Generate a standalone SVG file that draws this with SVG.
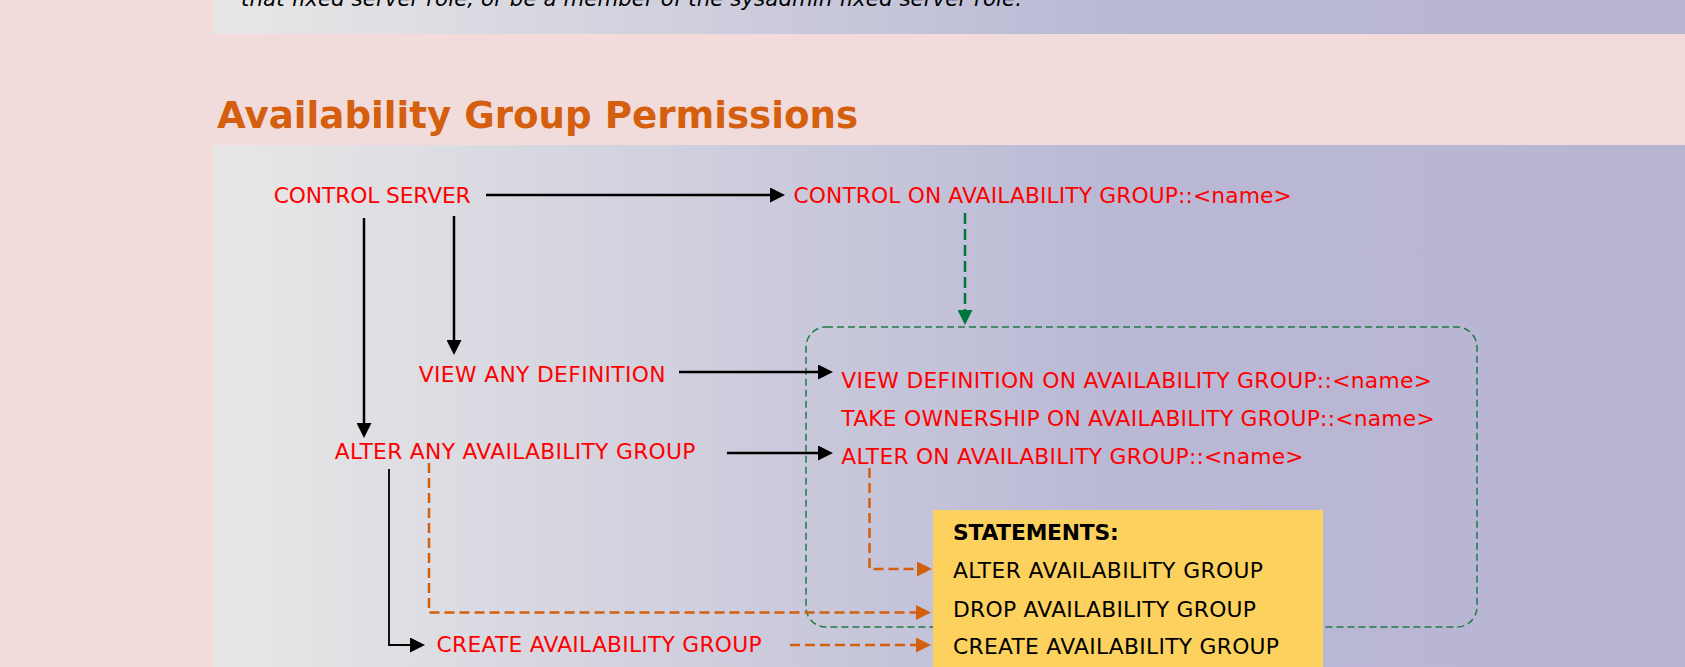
<svg xmlns="http://www.w3.org/2000/svg" width="1685" height="667" viewBox="0 0 1685 667">
<defs>
<linearGradient id="pg" gradientUnits="userSpaceOnUse" x1="213" y1="0" x2="1685" y2="0">
<stop offset="0" stop-color="#E6E6E6"/>
<stop offset="0.04" stop-color="#E5E5E6"/>
<stop offset="0.62" stop-color="#B9B8D5"/>
<stop offset="1" stop-color="#B8B5D3"/>
</linearGradient>
<marker id="ab" markerUnits="userSpaceOnUse" viewBox="0 0 15 15" refX="1" refY="7.5" markerWidth="15" markerHeight="15" orient="auto">
<path d="M0,0 L15,7.5 L0,15 z" fill="#000"/>
</marker>
<marker id="ao" markerUnits="userSpaceOnUse" viewBox="0 0 15 15" refX="1" refY="7.5" markerWidth="15" markerHeight="15" orient="auto">
<path d="M0,0 L15,7.5 L0,15 z" fill="#D2600F"/>
</marker>
<marker id="ag" markerUnits="userSpaceOnUse" viewBox="0 0 15 15" refX="1" refY="7.5" markerWidth="15" markerHeight="15" orient="auto">
<path d="M0,0 L15,7.5 L0,15 z" fill="#00773A"/>
</marker>
</defs>
<style>
.lbl{font-family:"DejaVu Sans",Verdana,sans-serif;font-size:21.8px;fill:#FF0000}
.st{font-family:"DejaVu Sans",Verdana,sans-serif;font-size:21.8px;fill:#000}
.bl{fill:none;stroke:#000;stroke-width:2.5}
.or{fill:none;stroke:#D2600F;stroke-width:2.5;stroke-dasharray:10 5}
.gr{fill:none;stroke:#00773A;stroke-width:2.5;stroke-dasharray:11 5}
</style>
<rect x="0" y="0" width="1685" height="667" fill="#F2DCDB"/>
<rect x="213" y="0" width="1472" height="34" fill="url(#pg)"/>
<text x="241" y="6" font-family="DejaVu Sans, sans-serif" font-style="italic" font-size="21.3" fill="#000" textLength="781" lengthAdjust="spacing">that fixed server role, or be a member of the sysadmin fixed server role.</text>
<text x="217" y="128" font-family="DejaVu Sans, sans-serif" font-weight="bold" font-size="37.2" fill="#D35F0F">Availability Group Permissions</text>
<rect x="213" y="145" width="1472" height="522" fill="url(#pg)"/>

<g id="scope-box">
<rect x="806" y="327" width="671" height="300" rx="20" ry="20" fill="none" stroke="#1E7B45" stroke-width="1.5" stroke-dasharray="7 4"/>
</g>

<g id="statements">
<rect x="933" y="510" width="390" height="157" fill="#FDD15D"/>
<text class="st" x="953" y="539.5" font-weight="bold" textLength="165.6" lengthAdjust="spacing">STATEMENTS:</text>
<text class="st" x="953" y="577.5" textLength="310" lengthAdjust="spacing">ALTER AVAILABILITY GROUP</text>
<text class="st" x="953" y="617" textLength="303" lengthAdjust="spacing">DROP AVAILABILITY GROUP</text>
<text class="st" x="953" y="654" textLength="326" lengthAdjust="spacing">CREATE AVAILABILITY GROUP</text>
</g>

<g id="connectors">
<path class="bl" d="M486,195 H771" marker-end="url(#ab)"/>
<path class="bl" d="M454,216 V341" marker-end="url(#ab)"/>
<path class="bl" d="M364,218 V424" marker-end="url(#ab)"/>
<path class="bl" d="M679,372 H819" marker-end="url(#ab)"/>
<path class="bl" d="M727,453 H819" marker-end="url(#ab)"/>
<path class="bl" style="stroke-width:1.8" d="M389,469 V645 H411" marker-end="url(#ab)"/>
<path class="gr" d="M965,213 V311" marker-end="url(#ag)"/>
<path class="or" d="M429,463 V612.5 H917" marker-end="url(#ao)"/>
<path class="or" d="M869.5,468 V569 H918" marker-end="url(#ao)"/>
<path class="or" d="M790,645 H917" marker-end="url(#ao)"/>
</g>

<g id="control-server"><text class="lbl" x="273.7" y="203" textLength="197" lengthAdjust="spacing">CONTROL SERVER</text></g>
<g id="control-on-ag"><text class="lbl" x="793.4" y="203" textLength="498.4" lengthAdjust="spacing">CONTROL ON AVAILABILITY GROUP::&lt;name&gt;</text></g>
<g id="view-any-definition"><text class="lbl" x="418.8" y="382" textLength="246.8" lengthAdjust="spacing">VIEW ANY DEFINITION</text></g>
<g id="alter-any-ag"><text class="lbl" x="334.8" y="459" textLength="360.7" lengthAdjust="spacing">ALTER ANY AVAILABILITY GROUP</text></g>
<g id="create-ag"><text class="lbl" x="436.6" y="652" textLength="325" lengthAdjust="spacing">CREATE AVAILABILITY GROUP</text></g>
<g id="ag-permissions">
<text class="lbl" x="841.3" y="388" textLength="590.7" lengthAdjust="spacing">VIEW DEFINITION ON AVAILABILITY GROUP::&lt;name&gt;</text>
<text class="lbl" x="841.3" y="426" textLength="593.4" lengthAdjust="spacing">TAKE OWNERSHIP ON AVAILABILITY GROUP::&lt;name&gt;</text>
<text class="lbl" x="841.3" y="464.3" textLength="462.3" lengthAdjust="spacing">ALTER ON AVAILABILITY GROUP::&lt;name&gt;</text>
</g>
</svg>
